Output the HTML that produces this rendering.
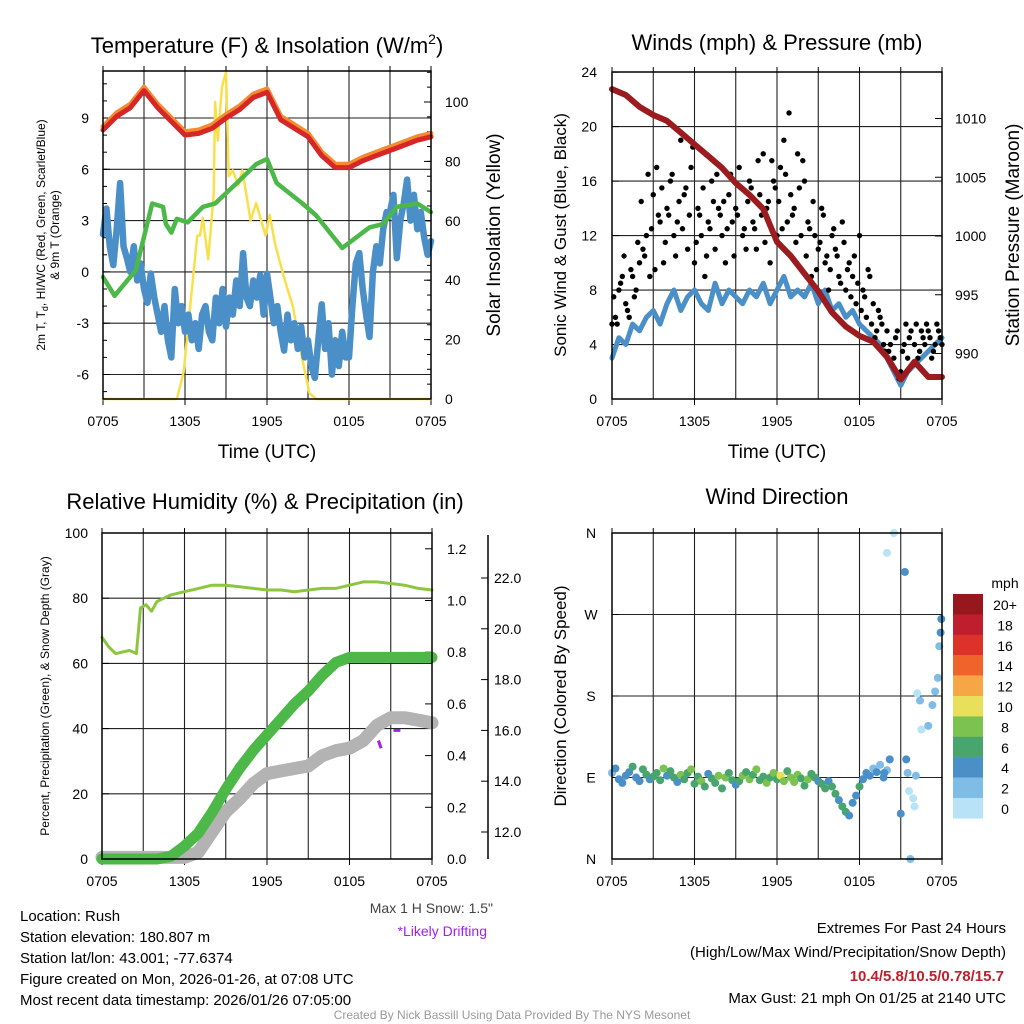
<!DOCTYPE html>
<html><head><meta charset="utf-8"><style>
html,body{margin:0;padding:0;background:#fff;}
svg{display:block;font-family:"Liberation Sans",sans-serif;}
</style></head><body>
<svg id="s" width="1024" height="1024" viewBox="0 0 1024 1024" xmlns="http://www.w3.org/2000/svg">
<g id="static" font-family="Liberation Sans, sans-serif">
<text x="267" y="53" font-size="22" text-anchor="middle">Temperature (F) &amp; Insolation (W/m<tspan font-size="14" dy="-9">2</tspan><tspan dy="9">)</tspan></text>
<text x="777" y="50" font-size="22" text-anchor="middle">Winds (mph) &amp; Pressure (mb)</text>
<text x="265" y="509" font-size="22" text-anchor="middle">Relative Humidity (%) &amp; Precipitation (in)</text>
<text x="777" y="504" font-size="22" text-anchor="middle">Wind Direction</text>

<text transform="translate(45,235) rotate(-90)" font-size="12" text-anchor="middle">2m T, T<tspan font-size="9" dy="3">d</tspan><tspan dy="-3">, HI/WC (Red, Green, Scarlet/Blue)</tspan></text>
<text transform="translate(59,235) rotate(-90)" font-size="12" text-anchor="middle">&amp; 9m T (Orange)</text>
<text transform="translate(500,235) rotate(-90)" font-size="19" text-anchor="middle">Solar Insolation (Yellow)</text>
<text x="267" y="458" font-size="19" text-anchor="middle">Time (UTC)</text>
<text x="777" y="458" font-size="19" text-anchor="middle">Time (UTC)</text>
<text transform="translate(566,235) rotate(-90)" font-size="17" text-anchor="middle">Sonic Wind &amp; Gust (Blue, Black)</text>
<text transform="translate(1019,235) rotate(-90)" font-size="19" text-anchor="middle">Station Pressure (Maroon)</text>
<text transform="translate(49,696) rotate(-90)" font-size="12" text-anchor="middle">Percent, Precipitation (Green), &amp; Snow Depth (Gray)</text>
<text transform="translate(566,696) rotate(-90)" font-size="17" text-anchor="middle">Direction (Colored By Speed)</text>

<text x="493" y="913" font-size="14" fill="#444" text-anchor="end">Max 1 H Snow: 1.5"</text>
<text x="487" y="936" font-size="14" fill="#a020f0" text-anchor="end">*Likely Drifting</text>
<g font-size="15">
<text x="20" y="921">Location: Rush</text>
<text x="20" y="942">Station elevation: 180.807 m</text>
<text x="20" y="963">Station lat/lon: 43.001; -77.6374</text>
<text x="20" y="984">Figure created on Mon, 2026-01-26, at 07:08 UTC</text>
<text x="20" y="1005">Most recent data timestamp: 2026/01/26 07:05:00</text>
</g>
<g font-size="15" text-anchor="end">
<text x="1006" y="933">Extremes For Past 24 Hours</text>
<text x="1006" y="957">(High/Low/Max Wind/Precipitation/Snow Depth)</text>
<text x="1004" y="981" fill="#c0202a" font-weight="bold">10.4/5.8/10.5/0.78/15.7</text>
<text x="1006" y="1003">Max Gust: 21 mph On 01/25 at 2140 UTC</text>
</g>
<text x="512" y="1019" font-size="12" fill="#999" text-anchor="middle">Created By Nick Bassill Using Data Provided By The NYS Mesonet</text>
<text x="1005" y="588" font-size="14" text-anchor="middle">mph</text>
</g>
<g id="dyn"></g>
</svg>
<script>
// ---- data (hours since 0705 UTC) ----
const xTickLabels = ["0705","1305","1905","0105","0705"];
const tempRed = [8.3,9.1,9.6,10.6,9.6,8.8,8.0,8.1,8.4,9.0,9.5,10.2,10.5,8.9,8.4,7.9,6.8,6.1,6.1,6.5,6.8,7.1,7.4,7.7,7.9];
const dewGreenH = [0,0.85,2.4,3.6,4.4,4.6,5.0,5.4,6.2,7.3,8.2,9.8,11.2,12.0,12.7,14.6,15.6,17.5,19.5,20.5,21.5,23.0,24];
const dewGreen = [-0.3,-1.4,0.1,4.0,3.8,2.8,2.3,3.1,2.9,3.8,4.0,5.2,6.3,6.6,5.2,4.0,3.3,1.4,2.6,2.8,3.8,4.0,3.5];
const windChill = [2.2,3.7,1.5,0.4,2.5,5.2,1.5,0.8,0,1.5,-0.5,0.5,-1.0,-1.8,-0.1,-1.5,-2.5,-3.5,-2.0,-4.0,-5.0,-1.0,-3.0,-2.0,-3.5,-2.5,-4.0,-3.0,-4.5,-2.5,-2.0,-3.5,-4.0,-1.5,-3.0,-1.0,-3.2,-1.5,-2.5,-0.5,-2.0,1.1,-1.5,-2.0,-0.5,-1.5,-0.2,-2.5,-0.1,-1.5,-3.0,-2.0,-3.5,-4.6,-2.5,-4.0,-3.0,-4.5,-3.2,-5.0,-4.0,-5.5,-6.2,-4.0,-1.9,-4.5,-3.0,-6.0,-4.0,-5.5,-3.5,-5.0,-5.0,-2.0,0.5,1.1,-1.0,-2.5,-3.8,0.0,1.5,0.5,2.5,3.5,3.5,4.5,0.8,3.0,4.0,5.4,3.0,4.5,2.5,3.5,2.0,1.0,1.8];
const solarH = [0,5.4,5.9,6.9,7.1,7.3,7.7,8.1,8.2,8.4,8.7,9.0,9.2,9.5,9.9,10.2,10.8,11.2,11.9,12.2,12.6,13.3,13.9,14.6,15.1,15.6,24];
const solar = [0,0,9,55,55,61,47,69,100,87,105,110,75,77,72,77,60,66,55,62,52,40,31,13,2,0,0];
const gustA = [5.5,6,8,9,7,6,9,8,10,11,12,9,15,17,13,10,14,16,12,13,19,15,11,17,10,14,12,9,13,16,11,14,12,10,15,13,14,17,12,11,16,13,11,15,18,14,10,16,12,17,19,13,15,14,18,12,16,13,9,12,11,14,10,8,12,11,9,13,8,10,9,7,12,8,6,9,7,5,6,4,5,4,3,5,2,4,3,5,4,3,5,4,5,3,4,5,4];
const gustB = [7.5,5.5,8.5,10.5,6.5,9.5,7.5,11.5,14.5,10.5,16.5,12.5,9.5,13.5,15.5,11.5,13.5,16.5,10.5,14.5,12.5,15.5,13.5,18.5,11.5,13.5,15.5,10.5,12.5,14.5,16.5,13.5,14.5,12.5,16.5,10.5,13.5,15.5,12.5,14.5,15.5,12.5,17.5,13.5,11.5,14.5,17.5,15.5,14.5,12.5,16.5,21,13.5,11.5,15.5,17.5,10.5,12.5,14.5,9.5,11.5,13.5,10.5,9.5,12.5,10.5,8.5,11.5,9.5,7.5,10.5,8.5,6.5,7.5,9.5,5.5,4.5,6.5,5.5,3.5,3.5,2.5,4.5,1.5,3.5,5.5,4.5,2.5,5.5,3.5,4.5,5.5,4.5,3.5,5.5,4.5];
const sonicWind = [3,4.5,4,5.5,5,6,6.5,5.5,7,8,6.5,7.5,8,7,6.5,8.5,7,8,7.5,7,8,7.5,8.5,7,8,9,7.5,8,7.5,8.5,7,8,6.5,7,6,6.5,5.5,5,4.5,4,3,2,1,2,2.5,3,3.5,4,4.5];
const pressure = [1012.5,1012,1011,1010.3,1009.8,1008.8,1007.8,1006.8,1005.8,1004.5,1003.5,1002.3,999.5,998.3,996.8,995.3,993.5,992.3,991.5,991,989.7,987.8,989.3,988,988];
const rhH = [0,0.5,1,2,2.5,2.8,3.2,3.6,4,4.5,5,6,7,8,9,10,11,12,13,14,15,16,17,18,19,20,21,22,23,24];
const rh = [68,65,63,64,63,77,78,76,79,80,81,82,83,84,84,83.5,83,82.5,82.5,82,82.5,83,83,84,85,85,84.5,84,83,82.5];
const precip = [0,0,0,0,0,0.01,0.05,0.1,0.18,0.27,0.35,0.42,0.48,0.54,0.6,0.65,0.71,0.76,0.78,0.78,0.78,0.78,0.78,0.78,0.78];
const snow = [11.0,11.0,11.0,11.0,11.0,11.0,11.0,11.2,12.0,12.8,13.3,13.9,14.3,14.4,14.5,14.6,15.0,15.2,15.3,15.6,16.2,16.5,16.5,16.4,16.3];
const windDir = [95,100,88,84,92,96,102,90,86,99,93,88,91,95,87,100,92,97,90,85,93,88,95,99,83,91,86,80,94,89,84,92,78,90,95,87,82,86,92,96,88,93,99,87,91,84,90,95,88,92,86,97,90,85,93,89,81,88,94,90,86,83,78,86,80,72,65,58,52,48,62,70,80,88,95,92,100,96,104,90,98];
const windSpd = [3,4,4,5,4,5,6,4,5,6,7,5,6,7,6,8,5,6,7,5,8,7,6,8,7,6,8,7,5,7,6,8,7,8,6,7,5,6,8,7,9,7,8,6,7,8,7,9,6,10,8,7,9,8,9,7,6,8,6,7,5,7,6,5,6,6,5,6,7,5,4,5,6,4,4,5,3,4,3,4,3];
const lateDirH = [20.5,20.0,21.3,21.4,21.5,22.4,22.2,22.5,23.0,23.3,23.5,23.7,23.8,23.9,23.95,21.6,21.9,22.0,20.2,19.8,21.0,21.7,22.1];
const lateDir = [360,338,317,110,95,175,183,143,147,170,185,200,235,250,265,75,67,58,110,95,50,0,92];
const lateSpd = [0,0,4,4,2,2,0,0,2,2,2,2,2,4,4,0,0,0,4,4,4,2,2];
const cbLabels = ["20+","18","16","14","12","10","8","6","4","2","0"];
const cbColors = ["#96171c","#be1e2d","#dc3229","#f0632b","#f7a646","#e8e05a","#7cc24e","#48a56e","#4a8fc8","#7fbde6","#b8e2f6"];

// ---- helpers ----
const NS="http://www.w3.org/2000/svg";
const root=document.getElementById('dyn');
function mk(tag,attrs,parent){const e=document.createElementNS(NS,tag);for(const k in attrs)e.setAttribute(k,attrs[k]);(parent||root).appendChild(e);return e;}
function txt(x,y,s,size,anchor){const t=mk('text',{x:x,y:y,'font-size':size,'text-anchor':anchor||'middle'});t.textContent=s;return t;}

function panel(P,name){
  const g=mk('g',{});
  
  
  for(let h=3;h<24;h+=3){const l=mk('line',{x1:P.x(h),x2:P.x(h),y1:P.top,y2:P.bot,stroke:'#222','stroke-width':1.1},g);
    
    }
  for(let i=0;i<5;i++){const h=i*6;const t=txt(P.x(h),P.bot+27,xTickLabels[i],14);
    
    
    mk('line',{x1:P.x(h),x2:P.x(h),y1:P.bot,y2:P.bot+6,stroke:'#000'});}
  for(let h=0;h<=24;h+=3){mk('line',{x1:P.x(h),x2:P.x(h),y1:P.top,y2:P.top-5,stroke:'#000'});}
  return g;
}
function box(P,name){const r=mk('rect',{x:P.x0,y:P.top,width:P.x1-P.x0,height:P.bot-P.top,fill:'none',stroke:'#000','stroke-width':1.5});
  
  }
function hgrid(y,x0,x1){const l=mk('line',{x1:x0,x2:x1,y1:y,y2:y,stroke:'#222','stroke-width':1.1});
  
  }
function poly(pts,color,w,name){const p=mk('polyline',{points:pts.map(q=>q[0].toFixed(1)+','+q[1].toFixed(1)).join(' '),fill:'none',stroke:color,'stroke-width':w,'stroke-linejoin':'round','stroke-linecap':'round'});
  
  return p;}

// ---- Panel 1 ----
const P1={x0:103,x1:431,top:71,bot:399};P1.x=h=>P1.x0+h*(P1.x1-P1.x0)/24;
const tY=v=>118+(9-v)*17.1, sY=v=>399-v*2.97;
panel(P1,'temp');
[9,6,3,0,-3,-6].forEach(v=>{hgrid(tY(v),P1.x0,P1.x1);const t=txt(89,tY(v)+5,String(v),14,'end');
  
  
  mk('line',{x1:P1.x0,x2:P1.x0+7,y1:tY(v),y2:tY(v),stroke:'#000'});});
for(let v=-7;v<=11;v++){mk('line',{x1:P1.x0,x2:P1.x0+4,y1:tY(v),y2:tY(v),stroke:'#000'});}
[0,20,40,60,80,100].forEach(v=>{const t=txt(445,sY(v)+5,String(v),14,'start');
  
  
  mk('line',{x1:P1.x1,x2:P1.x1-7,y1:sY(v),y2:sY(v),stroke:'#000'});});
for(let v=5;v<=110;v+=5){mk('line',{x1:P1.x1,x2:P1.x1-4,y1:sY(v),y2:sY(v),stroke:'#000'});}
poly(solar.map((v,i)=>[P1.x(solarH[i]),sY(v)]),'#f9e04b',2.5,'insolation-line');
poly(windChill.map((v,i)=>[P1.x(i*0.25),tY(v)]),'#4a8fc8',6.5,'windchill-line');
poly(dewGreen.map((v,i)=>[P1.x(dewGreenH[i]),tY(v)]),'#4cb847',4.5,'dewpoint-line');
poly(tempRed.map((v,i)=>[P1.x(i),tY(v+0.2)]),'#f58a2e',5,'temp-9m-line');
poly(tempRed.map((v,i)=>[P1.x(i),tY(v)]),'#d62728',5,'temp-2m-line');
box(P1,'temp');

// ---- Panel 2 ----
const P2={x0:612,x1:942,top:72,bot:399};P2.x=h=>P2.x0+h*(P2.x1-P2.x0)/24;
const wY=v=>399-v*13.62, pY=v=>236-(v-1000)*11.75;
panel(P2,'wind');
[0,4,8,12,16,20,24].forEach(v=>{if(v>0&&v<24)hgrid(wY(v),P2.x0,P2.x1);const t=txt(597,wY(v)+5,String(v),14,'end');
  
  
  mk('line',{x1:P2.x0,x2:P2.x0+7,y1:wY(v),y2:wY(v),stroke:'#000'});});
[990,995,1000,1005,1010].forEach(v=>{const t=txt(955,pY(v)+5,String(v),14,'start');
  
  
  mk('line',{x1:P2.x1,x2:P2.x1-7,y1:pY(v),y2:pY(v),stroke:'#000'});});
poly(sonicWind.map((v,i)=>[P2.x(i*0.5),wY(v)]),'#4a8fc8',5,'sonic-wind-line');
gustA.forEach((v,i)=>{const c=mk('circle',{cx:P2.x(i*0.25),cy:wY(v),r:2.7,fill:'#000'});
  
  });
gustB.forEach((v,i)=>{const c=mk('circle',{cx:P2.x(0.125+i*0.25),cy:wY(v),r:2.7,fill:'#000'});
  
  });
poly(pressure.map((v,i)=>[P2.x(i),pY(v)]),'#9b1b1e',6,'pressure-line');
box(P2,'wind');

// ---- Panel 3 ----
const P3={x0:102,x1:432,top:533,bot:859};P3.x=h=>P3.x0+h*(P3.x1-P3.x0)/24;
const rY=v=>859-v*3.26, prY=v=>859-v*258.5, snY=v=>832-(v-12)*25.4;
panel(P3,'rh');
[0,20,40,60,80,100].forEach(v=>{if(v>0&&v<100)hgrid(rY(v),P3.x0,P3.x1);const t=txt(88,rY(v)+5,String(v),14,'end');
  
  
  mk('line',{x1:P3.x0,x2:P3.x0+7,y1:rY(v),y2:rY(v),stroke:'#000'});});
[0,0.2,0.4,0.6,0.8,1.0,1.2].forEach(v=>{const t=txt(447,prY(v)+5,v.toFixed(1),14,'start');
  
  
  mk('line',{x1:P3.x1,x2:P3.x1-7,y1:prY(v),y2:prY(v),stroke:'#000'});});
const ax2=mk('line',{x1:488,x2:488,y1:535,y2:859,stroke:'#000','stroke-width':1.5});


[12,14,16,18,20,22].forEach(v=>{const t=txt(494,snY(v)+5,v.toFixed(1),14,'start');
  
  
  mk('line',{x1:488,x2:481,y1:snY(v),y2:snY(v),stroke:'#000'});});
poly(snow.map((v,i)=>[P3.x(i),snY(v)]),'#b3b3b3',13,'snow-depth-line');
poly(precip.map((v,i)=>[P3.x(i),prY(v)]),'#4cb847',11,'precip-line');
poly(rh.map((v,i)=>[P3.x(rhH[i]),rY(v)]),'#8cc63f',3,'rh-line');
const dr1=mk('line',{x1:P3.x(20.1),x2:P3.x(20.3),y1:snY(15.6),y2:snY(15.3),stroke:'#a020f0','stroke-width':3});


const dr2=mk('line',{x1:P3.x(21.2),x2:P3.x(21.7),y1:snY(16.0),y2:snY(16.0),stroke:'#a020f0','stroke-width':3});


box(P3,'rh');

// ---- Panel 4 ----
const P4={x0:612,x1:942,top:533,bot:859};P4.x=h=>P4.x0+h*(P4.x1-P4.x0)/24;
const dY=d=>859-d*326/360;
panel(P4,'dir');
const dLab=['N','E','S','W','N'];
[0,90,180,270,360].forEach((d,i)=>{if(d>0&&d<360)hgrid(dY(d),P4.x0,P4.x1);const t=txt(591,dY(d)+5,dLab[i],14,'middle');
  
  
  mk('line',{x1:P4.x0,x2:P4.x0+7,y1:dY(d),y2:dY(d),stroke:'#000'});});
const col=s=>cbColors[10-Math.max(0,Math.min(10,Math.floor(s/2)))];
windDir.forEach((d,i)=>{const c=mk('circle',{cx:P4.x(i*0.25),cy:dY(d),r:4,fill:col(windSpd[i])});
  
  });
lateDir.forEach((d,i)=>{const c=mk('circle',{cx:P4.x(lateDirH[i]),cy:dY(d),r:4,fill:col(lateSpd[i])});
  
  });
box(P4,'dir');
cbLabels.forEach((l,i)=>{const r=mk('rect',{x:953,y:594+i*20.4,width:30,height:20.6,fill:cbColors[i]});
  
  
  const t=txt(1005,594+i*20.4+16,l,14,'middle');
  
  });
</script>
</body></html>
